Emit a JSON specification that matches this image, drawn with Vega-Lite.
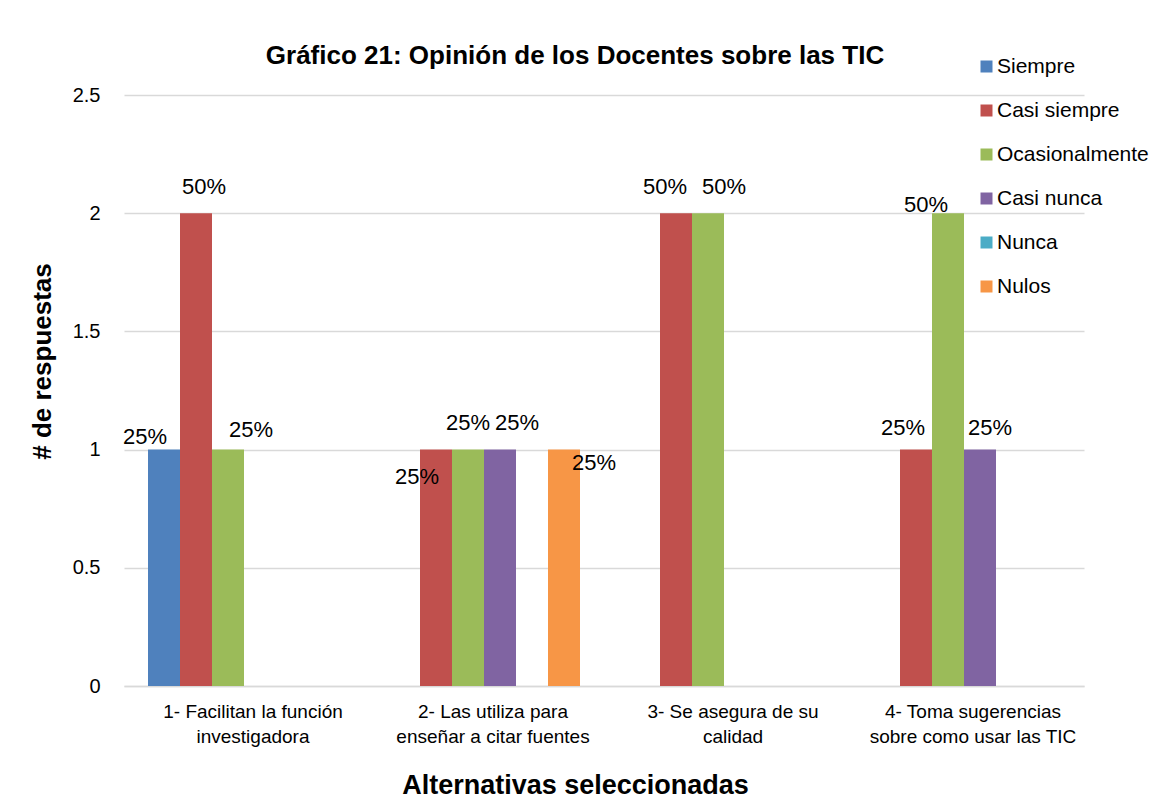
{
  "$schema": "https://vega.github.io/schema/vega-lite/v6.json",
  "width": 960,
  "height": 591,
  "autosize": {"type": "none"},
  "padding": {"left": 124, "top": 95, "right": 69, "bottom": 112},
  "background": "white",
  "config": {"view": {"stroke": null}, "font": "Liberation Sans"},
  "title": {"text": "Gráfico 21: Opinión de los Docentes sobre las TIC", "fontSize": 26, "fontWeight": "bold", "font": "Liberation Sans", "color": "#000000", "anchor": "middle", "dx": -29, "offset": -13},
  "data": {
    "values": [
      {"alternativa": "1- Facilitan la función|investigadora", "respuesta": "Siempre", "n": 1, "label": "25%"},
      {"alternativa": "1- Facilitan la función|investigadora", "respuesta": "Casi siempre", "n": 2, "label": "50%"},
      {"alternativa": "1- Facilitan la función|investigadora", "respuesta": "Ocasionalmente", "n": 1, "label": "25%"},
      {"alternativa": "2- Las utiliza para|enseñar a citar fuentes", "respuesta": "Casi siempre", "n": 1, "label": "25%"},
      {"alternativa": "2- Las utiliza para|enseñar a citar fuentes", "respuesta": "Ocasionalmente", "n": 1, "label": "25%"},
      {"alternativa": "2- Las utiliza para|enseñar a citar fuentes", "respuesta": "Casi nunca", "n": 1, "label": "25%"},
      {"alternativa": "2- Las utiliza para|enseñar a citar fuentes", "respuesta": "Nulos", "n": 1, "label": "25%"},
      {"alternativa": "3- Se asegura de su|calidad", "respuesta": "Casi siempre", "n": 2, "label": "50%"},
      {"alternativa": "3- Se asegura de su|calidad", "respuesta": "Ocasionalmente", "n": 2, "label": "50%"},
      {"alternativa": "4- Toma sugerencias|sobre como usar las TIC", "respuesta": "Casi siempre", "n": 1, "label": "25%"},
      {"alternativa": "4- Toma sugerencias|sobre como usar las TIC", "respuesta": "Ocasionalmente", "n": 2, "label": "50%"},
      {"alternativa": "4- Toma sugerencias|sobre como usar las TIC", "respuesta": "Casi nunca", "n": 1, "label": "25%"}
    ]
  },
  "encoding": {
    "x": {
      "field": "alternativa", "type": "nominal",
      "sort": ["1- Facilitan la función|investigadora", "2- Las utiliza para|enseñar a citar fuentes", "3- Se asegura de su|calidad", "4- Toma sugerencias|sobre como usar las TIC"],
      "scale": {"paddingInner": 0, "paddingOuter": 0},
      "axis": {
        "title": "Alternativas seleccionadas", "titleFontSize": 27, "titleFontWeight": "bold", "titleColor": "#000000", "titlePadding": 26, "titleX": 451,
        "labelExpr": "split(datum.label, '|')", "labelAngle": 0, "labelFontSize": 19, "labelColor": "#000000", "labelLimit": 400,
        "labelPadding": 16, "labelLineHeight": 25, "labelBaseline": "top", "labelOffset": 9, "ticks": false,
        "domainColor": "#d9d9d9", "domainWidth": 1.5
      }
    },
    "xOffset": {
      "field": "respuesta", "type": "nominal",
      "scale": {"domain": ["Siempre", "Casi siempre", "Ocasionalmente", "Casi nunca", "Nunca", "Nulos"], "paddingInner": 0, "paddingOuter": 0.75}
    },
    "y": {
      "field": "n", "type": "quantitative",
      "scale": {"domain": [0, 2.5]},
      "axis": {
        "title": "# de respuestas", "titleFontSize": 26, "titleFontWeight": "bold", "titleColor": "#000000", "titlePadding": 17, "titleY": 266,
        "values": [0, 0.5, 1, 1.5, 2, 2.5], "format": "~g", "labelFontSize": 20, "labelColor": "#000000", "labelPadding": 24,
        "ticks": false, "domain": false, "gridColor": "#d9d9d9", "gridWidth": 1.5
      }
    }
  },
  "layer": [
    {
      "mark": {"type": "bar"},
      "encoding": {
        "color": {
          "field": "respuesta", "type": "nominal",
          "scale": {"domain": ["Siempre", "Casi siempre", "Ocasionalmente", "Casi nunca", "Nunca", "Nulos"], "range": ["#4f81bd", "#c0504d", "#9bbb59", "#8064a2", "#4bacc6", "#f79646"]},
          "legend": {"orient": "none", "legendX": 852, "legendY": -39, "title": null, "symbolType": "square", "symbolSize": 144, "symbolStrokeWidth": 0, "labelFontSize": 21, "labelColor": "#000000", "rowPadding": 22, "labelOffset": 0, "padding": 0, "labelLimit": 300}
        }
      }
    },
    {"transform": [{"filter": "indexof(datum.alternativa,'1-')==0 && datum.respuesta=='Siempre'"}], "mark": {"type": "text", "fontSize": 22, "baseline": "middle", "dx": -19, "dy": -13}, "encoding": {"text": {"field": "label"}}},
    {"transform": [{"filter": "indexof(datum.alternativa,'1-')==0 && datum.respuesta=='Casi siempre'"}], "mark": {"type": "text", "fontSize": 22, "baseline": "middle", "dx": 8, "dy": -26}, "encoding": {"text": {"field": "label"}}},
    {"transform": [{"filter": "indexof(datum.alternativa,'1-')==0 && datum.respuesta=='Ocasionalmente'"}], "mark": {"type": "text", "fontSize": 22, "baseline": "middle", "dx": 23, "dy": -20}, "encoding": {"text": {"field": "label"}}},
    {"transform": [{"filter": "indexof(datum.alternativa,'2-')==0 && datum.respuesta=='Casi siempre'"}], "mark": {"type": "text", "fontSize": 22, "baseline": "middle", "dx": -19, "dy": 27}, "encoding": {"text": {"field": "label"}}},
    {"transform": [{"filter": "indexof(datum.alternativa,'2-')==0 && datum.respuesta=='Ocasionalmente'"}], "mark": {"type": "text", "fontSize": 22, "baseline": "middle", "dx": 0, "dy": -27}, "encoding": {"text": {"field": "label"}}},
    {"transform": [{"filter": "indexof(datum.alternativa,'2-')==0 && datum.respuesta=='Casi nunca'"}], "mark": {"type": "text", "fontSize": 22, "baseline": "middle", "dx": 17, "dy": -27}, "encoding": {"text": {"field": "label"}}},
    {"transform": [{"filter": "indexof(datum.alternativa,'2-')==0 && datum.respuesta=='Nulos'"}], "mark": {"type": "text", "fontSize": 22, "baseline": "middle", "dx": 30, "dy": 13}, "encoding": {"text": {"field": "label"}}},
    {"transform": [{"filter": "indexof(datum.alternativa,'3-')==0 && datum.respuesta=='Casi siempre'"}], "mark": {"type": "text", "fontSize": 22, "baseline": "middle", "dx": -11, "dy": -26}, "encoding": {"text": {"field": "label"}}},
    {"transform": [{"filter": "indexof(datum.alternativa,'3-')==0 && datum.respuesta=='Ocasionalmente'"}], "mark": {"type": "text", "fontSize": 22, "baseline": "middle", "dx": 16, "dy": -26}, "encoding": {"text": {"field": "label"}}},
    {"transform": [{"filter": "indexof(datum.alternativa,'4-')==0 && datum.respuesta=='Casi siempre'"}], "mark": {"type": "text", "fontSize": 22, "baseline": "middle", "dx": -13, "dy": -22}, "encoding": {"text": {"field": "label"}}},
    {"transform": [{"filter": "indexof(datum.alternativa,'4-')==0 && datum.respuesta=='Ocasionalmente'"}], "mark": {"type": "text", "fontSize": 22, "baseline": "middle", "dx": -22, "dy": -8}, "encoding": {"text": {"field": "label"}}},
    {"transform": [{"filter": "indexof(datum.alternativa,'4-')==0 && datum.respuesta=='Casi nunca'"}], "mark": {"type": "text", "fontSize": 22, "baseline": "middle", "dx": 10, "dy": -22}, "encoding": {"text": {"field": "label"}}}
  ]
}
